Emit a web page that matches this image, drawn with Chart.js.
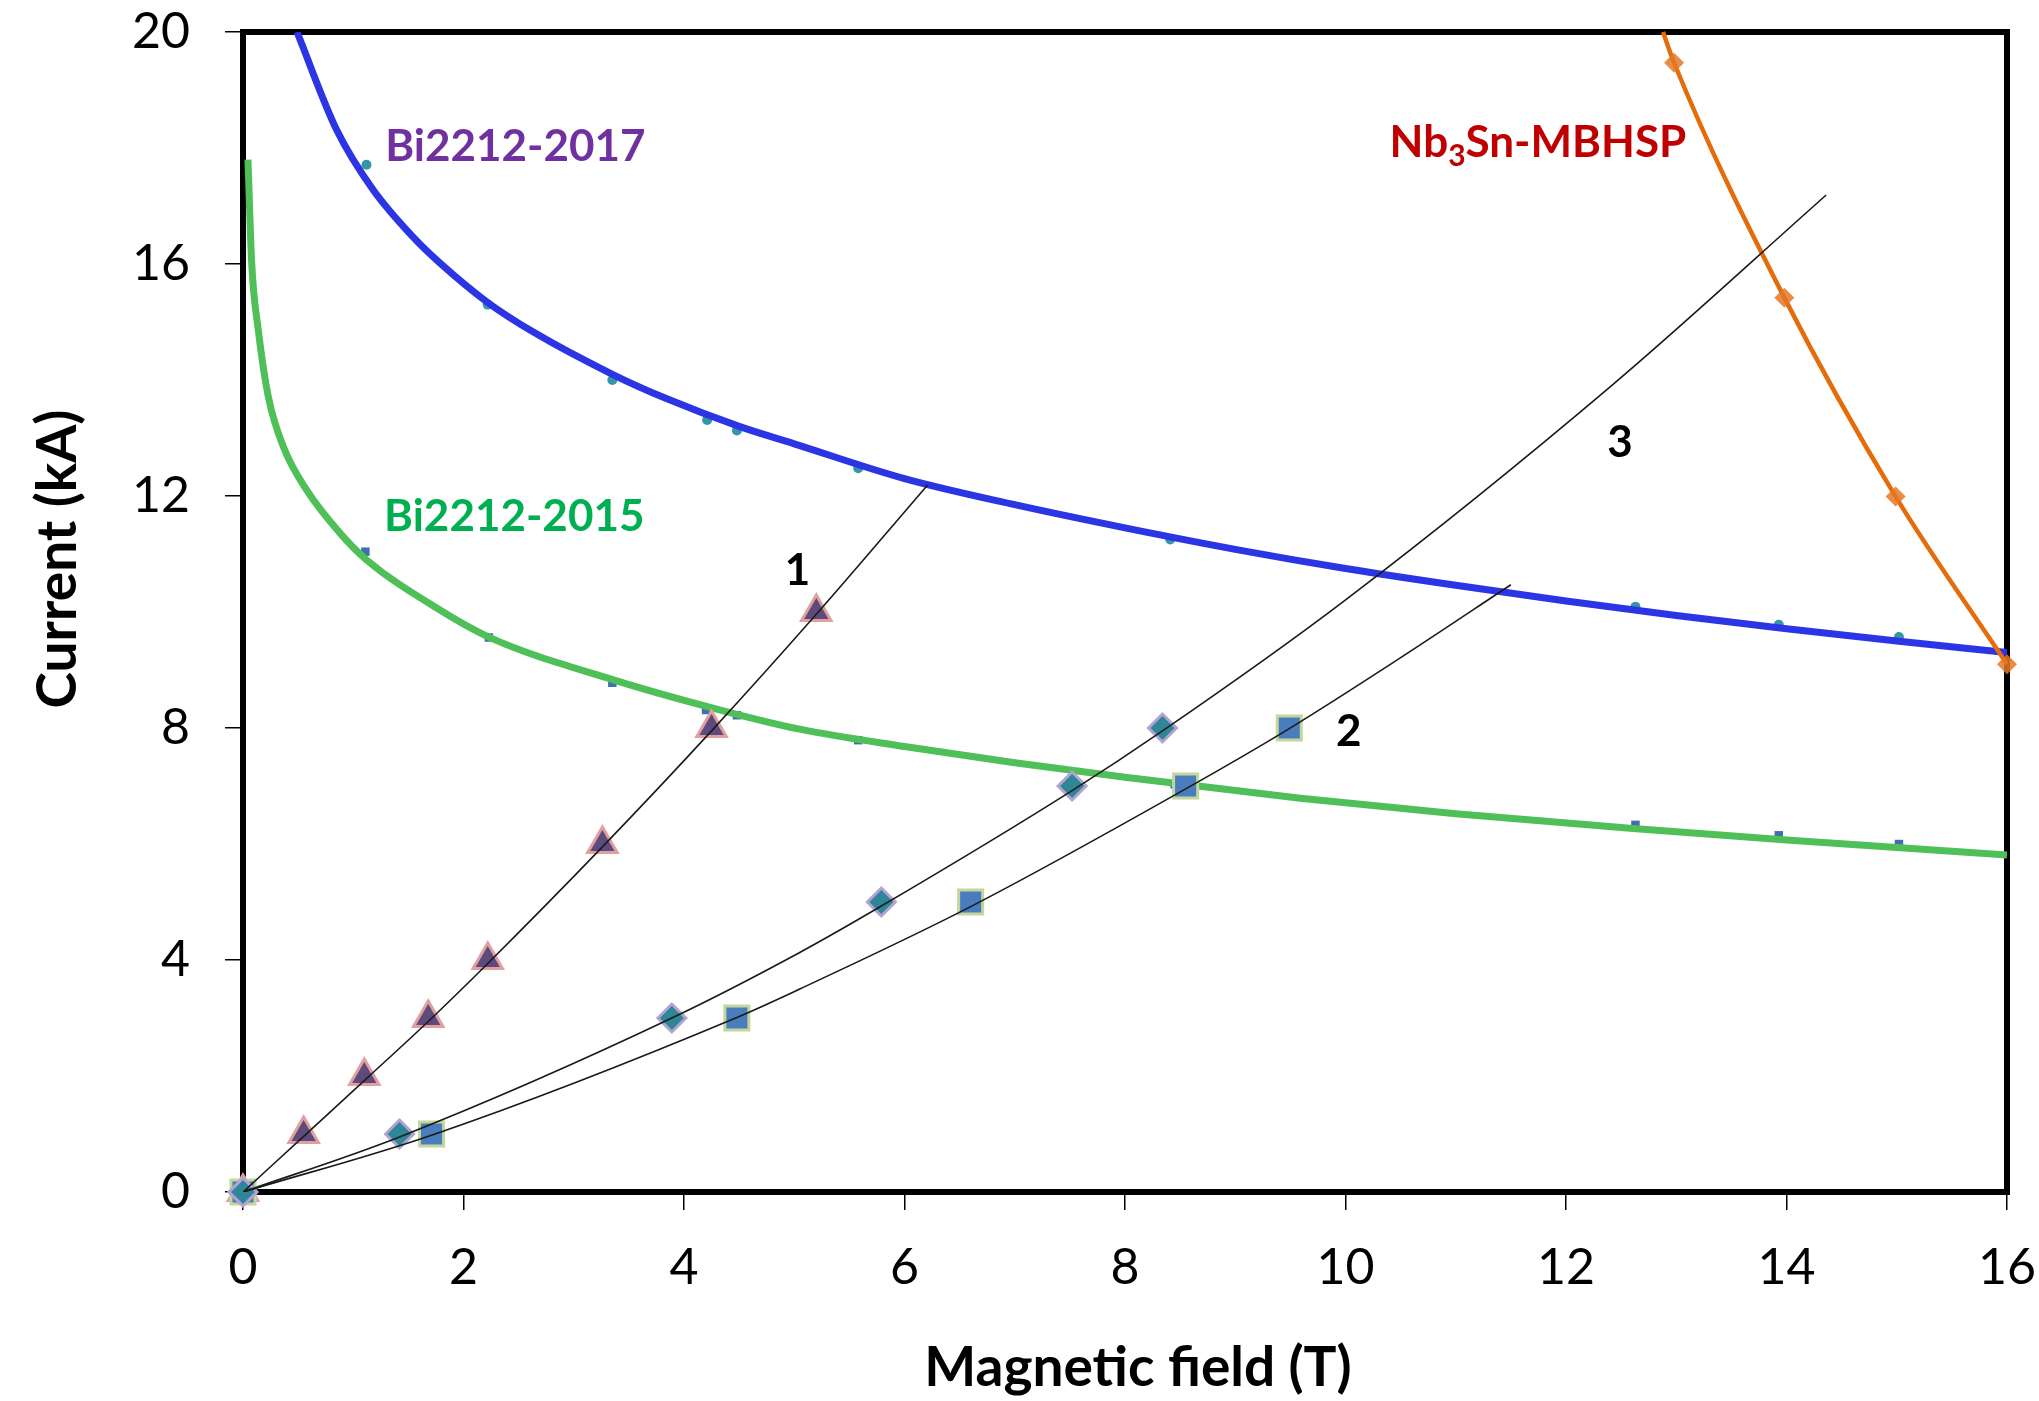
<!DOCTYPE html>
<html>
<head>
<meta charset="utf-8">
<title>Current vs magnetic field</title>
<script src="https://cdn.jsdelivr.net/npm/chart.js@4.4.1/dist/chart.umd.min.js"></script>
<style>
  html, body { margin: 0; padding: 0; background: #ffffff; }
  #wrap { width: 2039px; height: 1401px; position: relative; }
</style>
</head>
<body>
<div id="wrap"><canvas id="chart"></canvas></div>
<script>
// Bi2212-2017 fitted curve (B in T, I in kA)
const bi2017CurveB = [0.49, 0.85, 1.18, 1.55, 1.79, 2.21, 2.63, 3.36, 3.84, 4.5, 5.0, 6.0, 7.0, 8.0, 9.0, 10.0, 11.0, 12.0, 13.0, 14.0, 15.0, 16.0];
const bi2017CurveI = [20.0, 18.31, 17.28, 16.45, 16.01, 15.35, 14.83, 14.09, 13.68, 13.2, 12.9, 12.3, 11.85, 11.45, 11.08, 10.75, 10.46, 10.19, 9.94, 9.71, 9.5, 9.3];
// Bi2212-2017 measured points
const bi2017PtsB = [1.12, 2.22, 3.35, 4.21, 4.48, 5.58, 8.41, 12.63, 13.93, 15.02];
const bi2017PtsI = [17.71, 15.3, 14.0, 13.31, 13.13, 12.48, 11.25, 10.09, 9.78, 9.57];

// Bi2212-2015 fitted curve
const bi2015CurveB = [0.045, 0.079, 0.139, 0.23, 0.366, 0.578, 0.88, 1.12, 1.79, 2.25, 3.36, 4.33, 5.05, 6.0, 7.0, 8.0, 9.59, 11.0, 12.58, 14.0, 15.0, 16.0];
const bi2015CurveI = [17.8, 16.01, 14.86, 13.71, 12.85, 12.1, 11.36, 10.9, 10.03, 9.55, 8.83, 8.31, 7.98, 7.68, 7.4, 7.15, 6.79, 6.52, 6.27, 6.07, 5.94, 5.81];
// Bi2212-2015 measured points
const bi2015PtsB = [1.11, 2.23, 3.35, 4.2, 4.48, 5.58, 8.45, 12.63, 13.93, 15.02];
const bi2015PtsI = [11.04, 9.56, 8.78, 8.31, 8.22, 7.79, 7.03, 6.33, 6.15, 6.0];

// Nb3Sn-MBHSP
const nb3snB = [12.88, 12.98, 13.98, 14.99, 16.0];
const nb3snI = [20.0, 19.47, 15.42, 11.99, 9.1];

// load lines 1, 2, 3 (markers)
const line1B = [0, 0.55, 1.1, 1.68, 2.22, 3.26, 4.25, 5.2];
const line1I = [0, 1, 2, 3, 4, 6, 8, 10];
const line2B = [0, 1.71, 4.48, 6.6, 8.55, 9.49];
const line2I = [0, 1, 3, 5, 7, 8];
const line3B = [0, 1.42, 3.89, 5.79, 7.52, 8.34];
const line3I = [0, 1, 3, 5, 7, 8];

// load lines 1, 2, 3 (trend lines)
const trend1B = [0, 0.55, 1.1, 1.68, 2.22, 3.26, 4.25, 5.2, 6.21];
const trend1I = [0, 0.96, 1.92, 2.94, 3.94, 5.95, 7.95, 9.96, 12.19];
const trend2B = [0, 1.71, 4.48, 5.05, 6.6, 8.55, 9.49, 10.49, 11.5];
const trend2I = [0, 0.98, 3.01, 3.5, 4.92, 6.95, 7.99, 9.2, 10.47];
const trend3B = [0, 1.42, 3.89, 5.05, 5.79, 7.52, 8.34, 9.98, 12.43, 14.36];
const trend3I = [0, 0.95, 3.0, 4.13, 4.93, 6.92, 7.95, 10.18, 13.93, 17.19];

// tick values
const xTicks = [0, 2, 4, 6, 8, 10, 12, 14, 16];
const yTicks = [0, 4, 8, 12, 16, 20];

// text labels inside the plot, anchored in data units
const notes = [
    { text: 'Bi2212-2017', x: 1.29, y: 18.05, color: '#7030A0', align: 'left' },
    { text: 'Bi2212-2015', x: 1.28, y: 11.67, color: '#00B050', align: 'left' },
    { text: '1', x: 5.03, y: 10.74, color: '#000000', align: 'center' },
    { text: '2', x: 10.03, y: 7.97, color: '#000000', align: 'center' },
    { text: '3', x: 12.49, y: 12.95, color: '#000000', align: 'center' }
];
const nbNote = { parts: ['Nb', '3', 'Sn-MBHSP'], x: 10.40, y: 18.12, color: '#C00000' };

const FONT = 'Lato, "Open Sans", sans-serif';

function pts(bs, is) {
    return bs.map((b, i) => ({ x: b, y: is[i] }));
}

// frame round the plot area
const framePlugin = {
    id: 'frame',
    beforeDatasetsDraw(chart) {
        const a = chart.chartArea;
        const ctx = chart.ctx;
        ctx.save();
        ctx.strokeStyle = '#000000';
        ctx.lineWidth = 6;
        ctx.strokeRect(a.left, a.top, a.right - a.left, a.bottom - a.top);
        ctx.restore();
    }
};

// axis titles and in-plot labels
const textPlugin = {
    id: 'texts',
    afterDraw(chart) {
        const ctx = chart.ctx;
        const a = chart.chartArea;
        const xs = chart.scales.x;
        const ys = chart.scales.y;
        ctx.save();

        // axis titles
        ctx.fillStyle = '#000000';
        ctx.font = 'bold 55px ' + FONT;
        ctx.textAlign = 'center';
        ctx.textBaseline = 'middle';
        ctx.fillText('Magnetic field (T)', (a.left + a.right) / 2 + 13, a.bottom + 176);
        ctx.save();
        ctx.translate(a.left - 185, (a.top + a.bottom) / 2 - 53);
        ctx.rotate(-Math.PI / 2);
        ctx.fillText('Current (kA)', 0, 0);
        ctx.restore();

        // labels
        const size = 44;
        ctx.textBaseline = 'alphabetic';
        notes.forEach(n => {
            ctx.font = 'bold ' + size + 'px ' + FONT;
            ctx.fillStyle = n.color;
            ctx.textAlign = n.align;
            ctx.fillText(n.text, xs.getPixelForValue(n.x), ys.getPixelForValue(n.y) + size * 0.36);
        });

        // Nb3Sn label with subscript
        let px = xs.getPixelForValue(nbNote.x);
        const base = ys.getPixelForValue(nbNote.y) + size * 0.36;
        ctx.fillStyle = nbNote.color;
        ctx.textAlign = 'left';
        ctx.font = 'bold ' + size + 'px ' + FONT;
        ctx.fillText(nbNote.parts[0], px, base);
        px += ctx.measureText(nbNote.parts[0]).width;
        ctx.font = 'bold 30px ' + FONT;
        ctx.fillText(nbNote.parts[1], px, base + 9);
        px += ctx.measureText(nbNote.parts[1]).width;
        ctx.font = 'bold ' + size + 'px ' + FONT;
        ctx.fillText(nbNote.parts[2], px, base);

        ctx.restore();
    }
};

function curve(data, color, width, order) {
    return {
        data: data,
        showLine: true,
        borderColor: color,
        borderWidth: width,
        pointRadius: 0,
        cubicInterpolationMode: 'monotone',
        order: order
    };
}

function trend(data) {
    return {
        data: data,
        showLine: true,
        borderColor: '#1a1a1a',
        borderWidth: 1.6,
        pointRadius: 0,
        cubicInterpolationMode: 'monotone',
        order: 0
    };
}

function markers(data, style, radius, fill, edge, edgeWidth, order) {
    return {
        data: data,
        showLine: false,
        pointStyle: style,
        pointRadius: radius,
        backgroundColor: fill,
        borderColor: edge,
        borderWidth: edgeWidth,
        clip: false,
        order: order
    };
}

// fixed axis box sizes, no extra room for the end tick labels
function fitX(axis) {
    axis.height = 209;
    axis.paddingLeft = 0;
    axis.paddingRight = 0;
}
function fitY(axis) {
    axis.width = 243;
    axis.paddingTop = 0;
    axis.paddingBottom = 0;
}

const ctx = document.getElementById('chart').getContext('2d');
new Chart(ctx, {
    type: 'scatter',
    data: {
        datasets: [
            trend(pts(trend1B, trend1I)),
            trend(pts(trend2B, trend2I)),
            trend(pts(trend3B, trend3I)),
            markers(pts(line3B, line3I), 'rectRot', 14, '#2D8799', '#B4A2D0', 3, 1),
            markers(pts(line2B, line2I), 'rect', 17, '#4A7DBE', '#C3D69B', 3, 1),
            markers(pts(line1B, line1I), 'triangle', 17, '#5F4A7E', '#E0A09E', 3, 1),
            Object.assign(curve(pts(nb3snB, nb3snI), '#E46C0A', 4.5, 2), {
                pointStyle: 'rectRot',
                pointRadius: [0, 10, 10, 10, 10],
                pointBackgroundColor: 'rgba(228, 120, 40, 0.85)',
                pointBorderWidth: 0,
                clip: false
            }),
            curve(pts(bi2017CurveB, bi2017CurveI), '#2B35E3', 7, 3),
            curve(pts(bi2015CurveB, bi2015CurveI), '#4FBF57', 7, 3),
            markers(pts(bi2017PtsB, bi2017PtsI), 'circle', 5, '#3596AA', '#3596AA', 0, 4),
            markers(pts(bi2015PtsB, bi2015PtsI), 'rect', 6, '#3F6FB0', '#3F6FB0', 0, 4)
        ]
    },
    options: {
        responsive: true,
        maintainAspectRatio: false,
        animation: false,
        layout: { autoPadding: false, padding: { left: 0, top: 32, right: 32, bottom: 0 } },
        plugins: {
            legend: { display: false },
            tooltip: { enabled: false }
        },
        scales: {
            x: {
                type: 'linear',
                min: 0,
                max: 16,
                afterFit: fitX,
                afterBuildTicks: axis => { axis.ticks = xTicks.map(v => ({ value: v })); },
                border: { display: false },
                grid: { drawOnChartArea: false, drawTicks: true, tickLength: 18, color: '#000000', lineWidth: 1.5 },
                ticks: { color: '#000000', padding: 28, font: { family: FONT, size: 50 } }
            },
            y: {
                type: 'linear',
                min: 0,
                max: 20,
                afterFit: fitY,
                afterBuildTicks: axis => { axis.ticks = yTicks.map(v => ({ value: v })); },
                border: { display: false },
                grid: { drawOnChartArea: false, drawTicks: true, tickLength: 18, color: '#000000', lineWidth: 1.5 },
                ticks: { color: '#000000', padding: 35, font: { family: FONT, size: 50 } }
            }
        }
    },
    plugins: [framePlugin, textPlugin]
});
</script>
</body>
</html>
